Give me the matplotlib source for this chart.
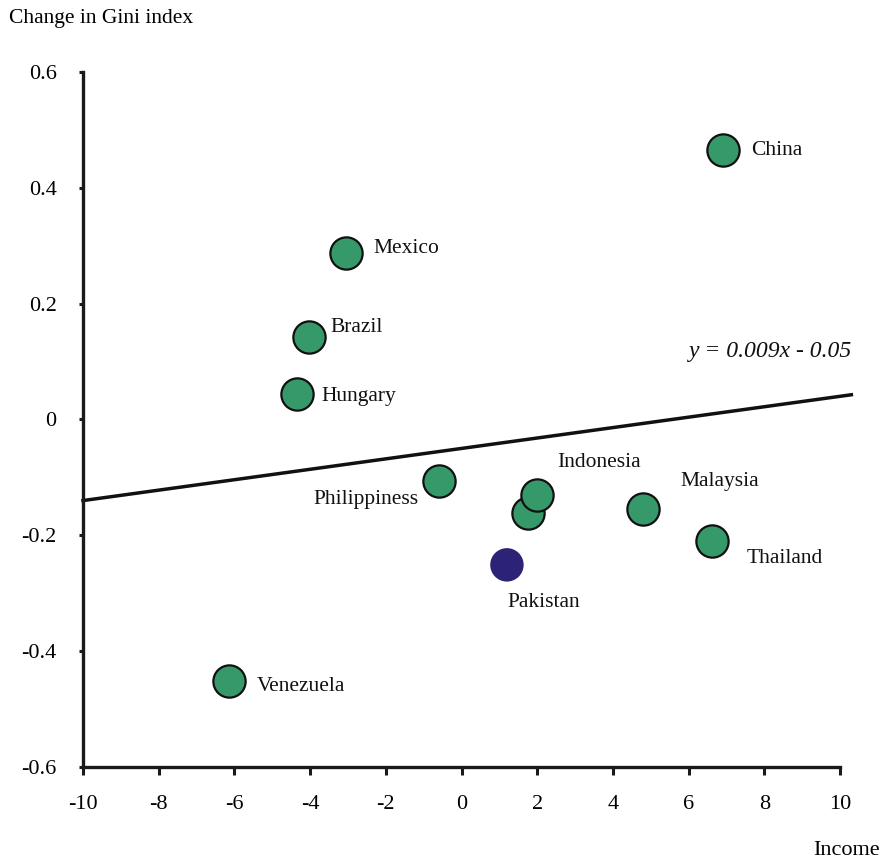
import matplotlib
matplotlib.use("Agg")
import matplotlib.pyplot as plt
import numpy as np

plt.rcParams['font.family'] = ['Liberation Serif', 'DejaVu Serif']

countries = ["China", "Mexico", "Brazil", "Hungary", "Philippiness", "Indonesia",
             "Indonesia2", "Malaysia", "Thailand", "Pakistan", "Venezuela"]
income = [6.9, -3.05, -4.03, -4.35, -0.6, 1.99, 1.76, 4.8, 6.62, 1.2, -6.14]
gini = [0.465, 0.287, 0.142, 0.044, -0.106, -0.131, -0.162, -0.155, -0.21, -0.251, -0.452]
highlight = ["Pakistan"]
slope = 0.009
intercept = -0.05
xticks = [-10, -8, -6, -4, -2, 0, 2, 4, 6, 8, 10]
yticks = [-0.6, -0.4, -0.2, 0, 0.2, 0.4, 0.6]

green = "#36996A"
navy = "#2C2377"

# label offsets in pixels (dx, dy, ha)
offsets = {
    "China": (28, 0, "left"),
    "Mexico": (27, 5, "left"),
    "Brazil": (21, 10, "left"),
    "Hungary": (25, -3, "left"),
    "Philippiness": (-20, -19, "right"),
    "Indonesia": (20, 33, "left"),
    "Malaysia": (37, 28, "left"),
    "Thailand": (35, -17, "left"),
    "Pakistan": (1, -38, "left"),
    "Venezuela": (28, -5, "left"),
}

fig = plt.figure(figsize=(8.82, 8.65), dpi=100)
ax = fig.add_axes([0.0941, 0.1133, 0.9524 - 0.0941, 0.9168 - 0.1133])
ax.set_xlim(-10, 10)
ax.set_ylim(-0.6, 0.6)

# regression line
xl = np.array([-10, 10.3])
ax.plot(xl, slope * xl + intercept, color="#111111", lw=2.5, clip_on=False, zorder=2)

# points (draw lower Indonesia first so upper overlaps)
order = [6, 5] + [i for i in range(len(countries)) if i not in (5, 6)]
for i in order:
    c = countries[i]
    if c in highlight:
        ax.scatter(income[i], gini[i], s=580, color=navy, edgecolors="none", zorder=3, clip_on=False)
    else:
        ax.scatter(income[i], gini[i], s=540, color=green, edgecolors="#111111",
                   linewidths=1.6, zorder=3, clip_on=False)

for i, c in enumerate(countries):
    if c in offsets:
        dx, dy, ha = offsets[c]
        ax.annotate(c, (income[i], gini[i]), xytext=(dx, dy), textcoords="offset pixels",
                    ha=ha, va="center", fontsize=15.5, color="#111111")

ax.text(10.32, 0.117, "y = 0.009x - 0.05", style="italic", ha="right", va="center",
        fontsize=17, color="#111111")

for s in ["top", "right"]:
    ax.spines[s].set_visible(False)
for s in ["left", "bottom"]:
    ax.spines[s].set_linewidth(2.4)
    ax.spines[s].set_color("#1a1a1a")

ax.set_xticks(xticks)
ax.set_xticklabels([str(t) for t in xticks])
ax.set_yticks(yticks)
ax.set_yticklabels(["-0.6", "-0.4", "-0.2", "0", "0.2", "0.4", "0.6"])
ax.tick_params(axis="x", length=6, width=2.2, pad=14, labelsize=16, color="#1a1a1a")
ax.tick_params(axis="y", length=3, width=2.2, pad=16, labelsize=16, color="#1a1a1a")

fig.text(0.0102, 0.979, "Change in Gini index", ha="left", va="center", fontsize=15.5)
fig.text(0.998, 0.0173, "Income", ha="right", va="center", fontsize=16)

fig.savefig("out.png", dpi=100)
